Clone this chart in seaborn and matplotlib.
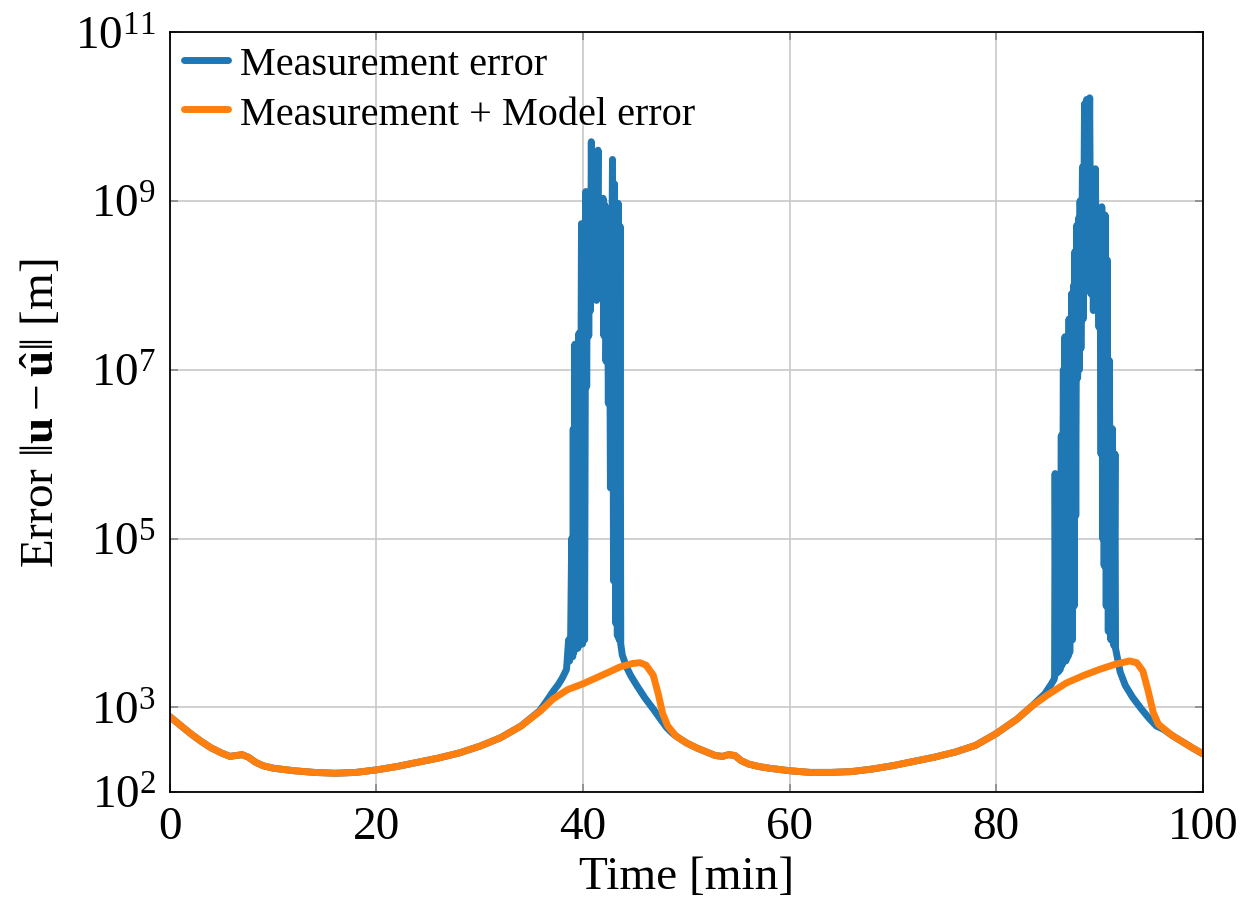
import numpy as np
import pandas as pd
import matplotlib
matplotlib.use("Agg")
import matplotlib.pyplot as plt
import seaborn as sns

# ---------------- data (log10 of error in m) ----------------
model_t = [0, 1, 2, 3, 4, 5, 5.8, 6.4, 7.0, 7.6, 8.3, 9, 10, 12, 14, 16, 18, 20, 22, 24,
           26, 28, 30, 32, 34, 35.9, 37.1, 38.5, 40, 42, 43.6, 44.8, 45.5, 46.1, 46.8,
           47.3, 47.7, 48.2, 49, 50, 51, 52, 52.8, 53.5, 54.1, 54.7, 55.3, 56, 57, 58,
           60, 62, 64, 66, 68, 70, 72, 74, 76, 78, 80, 82, 83.5, 85, 86.8, 88.5, 90,
           91.5, 92.9, 93.6, 94.2, 94.7, 95.2, 95.7, 96.2, 97, 97.8, 99, 100]
model_log10 = [2.89, 2.79, 2.69, 2.60, 2.52, 2.46, 2.42, 2.43, 2.44, 2.41, 2.35, 2.31, 2.28,
               2.25, 2.23, 2.22, 2.23, 2.26, 2.30, 2.35, 2.40, 2.46, 2.54, 2.64, 2.78, 2.96,
               3.10, 3.21, 3.28, 3.39, 3.48, 3.52, 3.53, 3.50, 3.38, 3.15, 2.93, 2.78, 2.66,
               2.58, 2.52, 2.47, 2.43, 2.42, 2.44, 2.43, 2.37, 2.33, 2.30, 2.28, 2.25, 2.23,
               2.23, 2.24, 2.27, 2.31, 2.36, 2.41, 2.47, 2.55, 2.69, 2.86, 3.02, 3.15, 3.29,
               3.38, 3.45, 3.51, 3.55, 3.53, 3.43, 3.20, 2.94, 2.80, 2.75, 2.67, 2.61, 2.52,
               2.45]

meas_t = [0, 1, 2, 3, 4, 5, 5.8, 6.4, 7.0, 7.6, 8.3, 9, 10, 12, 14, 16, 18, 20, 22, 24,
          26, 28, 30, 32, 34, 35.8, 36.5, 37.1, 37.6, 38.0, 38.4,
          38.6, 38.7, 38.8, 38.9, 39.0, 39.05, 39.1, 39.2, 39.3, 39.4, 39.5, 39.6, 39.7,
          39.85, 39.95, 40.05, 40.15, 40.27, 40.35, 40.45, 40.55, 40.65, 40.72, 40.80,
          40.90, 41.00, 41.10, 41.20, 41.30, 41.45, 41.55, 41.65, 41.75, 41.94, 42.02,
          42.12, 42.22, 42.35, 42.45, 42.55, 42.65, 42.85, 42.95, 43.05, 43.15, 43.25,
          43.32, 43.40, 43.50, 43.58, 43.65,
          43.8, 44.2, 44.6, 45.2, 46.0, 46.8, 47.5, 48.1, 48.6,
          49, 50, 51, 52, 52.8, 53.5, 54.1, 54.7, 55.3, 56, 57, 58, 60, 62, 64, 66, 68,
          70, 72, 74, 76, 78, 80, 82, 83.5, 84.0, 84.7, 85.3, 85.6,
          85.65, 85.7, 85.78, 86.0, 86.2,
          86.3, 86.38, 86.5, 86.58, 86.65, 86.75, 86.85, 86.95, 87.05, 87.12, 87.3,
          87.38, 87.5, 87.55, 87.62, 87.7, 87.8, 87.88, 88.0, 88.05, 88.12, 88.2, 88.35,
          88.42, 88.55, 88.65, 88.75, 88.85, 89.05, 89.15, 89.3, 89.4, 89.6, 89.7, 89.85,
          89.95, 90.05, 90.15, 90.22, 90.3, 90.4, 90.45, 90.55, 90.65, 90.75, 90.85,
          90.95, 91.1, 91.25, 91.4, 91.5, 91.55,
          92.0, 92.5, 93.2, 94.0, 94.8, 95.5, 96.2, 97, 97.8, 99, 100]
meas_log10 = [2.89, 2.79, 2.69, 2.60, 2.52, 2.46, 2.42, 2.43, 2.44, 2.41, 2.35, 2.31, 2.28,
              2.25, 2.23, 2.22, 2.23, 2.26, 2.30, 2.35, 2.40, 2.46, 2.54, 2.64, 2.78, 2.96,
              3.08, 3.19, 3.27, 3.35, 3.45,
              3.80, 3.55, 3.85, 5.00, 3.60, 6.30, 3.65, 7.30, 3.70, 7.31, 3.70, 7.43, 3.75,
              8.73, 3.75, 8.70, 3.80, 9.11, 6.80, 9.05, 7.40, 8.90, 7.70, 9.70,
              7.85, 9.20, 7.85, 9.45, 7.82, 9.60, 7.85, 8.60, 7.95, 9.03, 7.40,
              8.95, 7.10, 8.52, 6.60, 8.60, 5.60, 9.49, 4.50, 9.20, 4.00, 8.60,
              3.85, 8.97, 3.80, 8.70, 3.75,
              3.62, 3.48, 3.38, 3.26, 3.11, 2.98, 2.86, 2.76, 2.70,
              2.66, 2.58, 2.52, 2.47, 2.43, 2.42, 2.44, 2.43, 2.37, 2.33, 2.30, 2.28, 2.25,
              2.23, 2.23, 2.24, 2.27, 2.31, 2.36, 2.41, 2.47, 2.55, 2.69, 2.86, 3.02, 3.08,
              3.16, 3.27, 3.33,
              3.36, 5.77, 3.40, 3.42, 3.45,
              6.22, 3.50, 7.00, 3.55, 7.39, 3.55, 7.20, 3.60, 7.60, 3.65, 7.90,
              3.80, 8.00, 4.20, 8.40, 5.27, 8.71, 6.90, 8.80, 7.00, 9.00, 7.25, 9.40,
              7.60, 10.15, 8.00, 10.20, 8.10, 10.22, 7.90, 9.00, 7.70, 9.38, 7.72, 8.60,
              7.50, 8.80, 6.00, 8.93, 5.00, 8.60, 4.68, 8.83, 4.20, 8.30, 3.90,
              7.11, 3.80, 6.30, 3.73, 6.00, 3.70,
              3.42, 3.26, 3.12, 2.99, 2.87, 2.78, 2.74, 2.67, 2.61, 2.52, 2.45]

y_ticks = [1e2, 1e3, 1e5, 1e7, 1e9, 1e11]
y_tick_labels = [r"$10^{2}$", r"$10^{3}$", r"$10^{5}$", r"$10^{7}$", r"$10^{9}$", r"$10^{11}$"]
x_ticks = [0, 20, 40, 60, 80, 100]

series_names = ["Measurement error", "Measurement + Model error"]
series_colors = ["#1f77b4", "#ff7f0e"]

# ---------------- styling ----------------
sns.set_style("ticks")
plt.rcParams['font.family'] = ['Liberation Serif', 'DejaVu Serif']
plt.rcParams['mathtext.fontset'] = 'custom'
plt.rcParams['mathtext.rm'] = 'Liberation Serif'
plt.rcParams['mathtext.it'] = 'Liberation Serif:italic'
plt.rcParams['mathtext.bf'] = 'Liberation Serif:bold'
plt.rcParams['text.color'] = 'black'
plt.rcParams['axes.labelcolor'] = 'black'
plt.rcParams['xtick.color'] = 'black'
plt.rcParams['ytick.color'] = 'black'

fig = plt.figure(figsize=(12.4, 9.03), dpi=100)
ax = fig.add_axes([0.137, 0.122, 0.833, 0.8415])

df_meas = pd.DataFrame({"t": meas_t, "err": np.power(10.0, meas_log10)})
df_model = pd.DataFrame({"t": model_t, "err": np.power(10.0, model_log10)})

line_kw = dict(estimator=None, sort=False)
sns.lineplot(data=df_meas, x="t", y="err", ax=ax, color=series_colors[0],
             label=series_names[0], **line_kw)
sns.lineplot(data=df_model, x="t", y="err", ax=ax, color=series_colors[1],
             label=series_names[1], **line_kw)
for ln in ax.lines:
    ln.set_linewidth(5.0)
    ln.set_solid_capstyle("round")
    ln.set_solid_joinstyle("round")

ax.set_yscale("log")
ax.set_xlim(0, 100)
ax.set_ylim(1e2, 1e11)
ax.set_xticks(x_ticks)
ax.set_xticklabels([str(v) for v in x_ticks])
ax.set_yticks(y_ticks)
ax.set_yticklabels(y_tick_labels)
ax.minorticks_off()

ax.grid(True, color="#c8c8c8", lw=1.2)
ax.set_axisbelow(True)
ax.tick_params(axis="both", direction="in", length=6, width=1.2, color="#888888",
               labelsize=34, labelcolor="black", pad=10, top=True, right=True)
for s in ax.spines.values():
    s.set_color("black")
    s.set_linewidth(1.3)

ax.set_xlabel("Time [min]", fontsize=34, labelpad=5)
ax.set_ylabel(r"Error $\|\mathbf{u}-\hat{\mathbf{u}}\|$ [m]", fontsize=34, labelpad=8)

ax.legend(loc="upper left", frameon=False, fontsize=29, handlelength=1.1,
          handletextpad=0.3, borderpad=0.2, borderaxespad=0.15, labelspacing=0.3)

fig.savefig("out.png", dpi=100)
